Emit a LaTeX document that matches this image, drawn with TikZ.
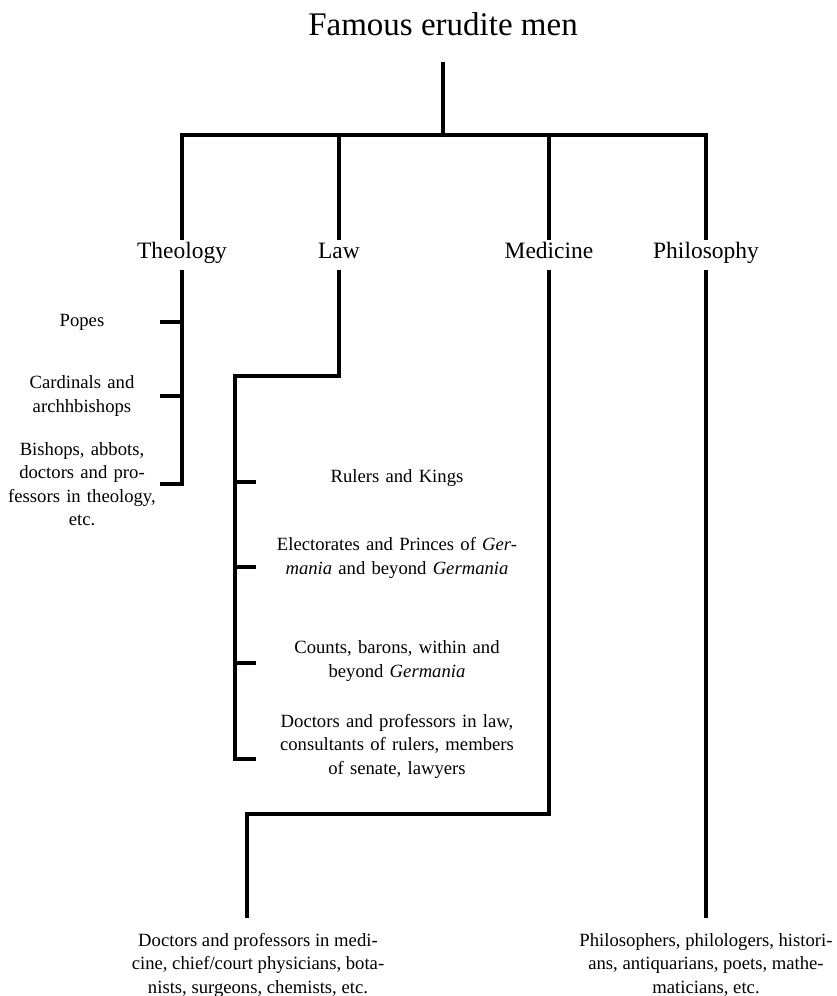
\documentclass[tikz,border=0pt]{standalone}
\usepackage{fontspec}
\setmainfont{Liberation Serif}

\newcommand{\titlesize}{\fontsize{24.75}{30}\selectfont}
\newcommand{\branchsize}{\fontsize{17.6}{21}\selectfont}
\newcommand{\itemsize}{\fontsize{14}{17.6}\selectfont}

\begin{document}
\begin{tikzpicture}[x=0.75pt, y=-0.75pt, line width=3pt]
\useasboundingbox (0,0) rectangle (836,996);

\node (title) at (443,35) [anchor=base, inner sep=0pt, font=\titlesize] {Famous erudite men};

\begin{scope}[every node/.style={anchor=base, font=\branchsize, text height=0.7em, text depth=0.22em, inner ysep=5pt}]
    \node (theology) at (182,258) {Theology};
    \node (law) at (339,258) {Law};
    \node (medicine) at (549,258) {Medicine};
    \node (philosophy) at (706,258) {Philosophy};
\end{scope}

\begin{scope}[every node/.style={font=\itemsize, align=center, text width=114pt, inner xsep=0pt}]
    \node (popes) at (82,322) {Popes};
    \node (cardinals) at (82,396) {Cardinals and\\ archhbishops};
    \node (bishops) at (82,484) {Bishops, abbots,\\ doctors and pro-\\ fessors in theology,\\ etc.};
\end{scope}

\begin{scope}[every node/.style={font=\itemsize, align=center, text width=204pt, inner xsep=2pt}]
    \node (rulers) at (397,478) {Rulers and Kings};
    \node (electors) at (397,558) {Electorates and Princes of \textit{Ger-}\\ \textit{mania} and beyond \textit{Germania}};
    \node (counts) at (397,661) {Counts, barons, within and\\ beyond \textit{Germania}};
    \node (lawyers) at (397,746) {Doctors and professors in law,\\ consultants of rulers, members\\ of senate, lawyers};
\end{scope}

\begin{scope}[every node/.style={font=\itemsize, align=center, anchor=north, inner ysep=10pt}]
    \node (physicians) at (258,918) {Doctors and professors in medi-\\ cine, chief/court physicians, bota-\\ nists, surgeons, chemists, etc.};
    \node (philosophers) at (706,918) {Philosophers, philologers, histori-\\ ans, antiquarians, poets, mathe-\\ maticians, etc.};
\end{scope}

\coordinate (hub) at (443,135);
\coordinate (lawbend) at (235,376);
\coordinate (lt1) at (235,482);
\coordinate (lt2) at (235,567);
\coordinate (lt3) at (235,663);
\coordinate (lt4) at (235,759);
\coordinate (medbend) at (247,814);

% tree
\draw [shorten <=18.75pt] (title.south) -- (hub);
\draw (theology.north) |- (hub) -| (philosophy.north);
\draw (law.north) -- (law.north |- hub);
\draw (medicine.north) -- (medicine.north |- hub);

% theology
\draw (theology.south) |- (bishops.east);
\draw (popes.east) -- (popes.east -| theology.south);
\draw (cardinals.east) -- (cardinals.east -| theology.south);

% law
\draw (law.south) |- (lawbend) -- (lt4) -- (lt4 -| lawyers.west);
\draw (lt1) -- (lt1 -| rulers.west);
\draw (lt2) -- (lt2 -| electors.west);
\draw (lt3) -- (lt3 -| counts.west);

% medicine and philosophy
\draw (medicine.south) |- (medbend) -- (medbend |- physicians.north);
\draw (philosophy.south) -- (philosophy.south |- philosophers.north);
\end{tikzpicture}
\end{document}
